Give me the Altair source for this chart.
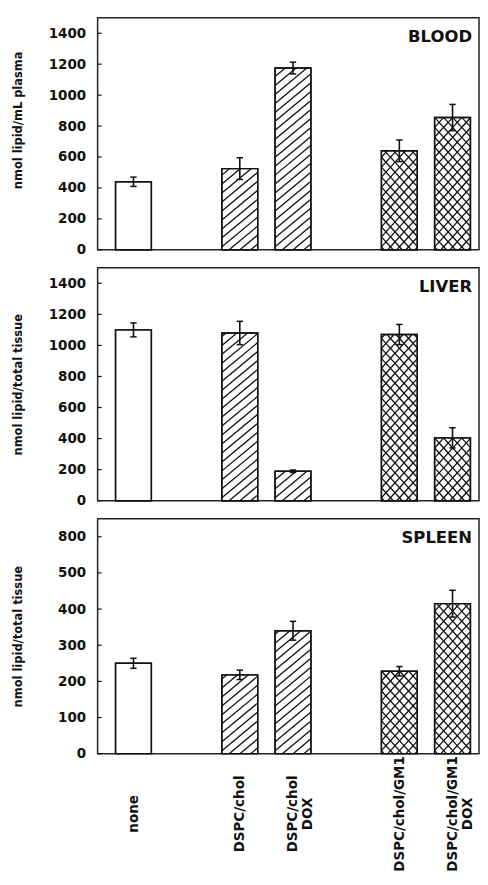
import altair as alt
import pandas as pd

# ---------------- data ----------------
groups = [["none"],
          ["DSPC/chol", "DSPC/chol DOX"],
          ["DSPC/chol/GM1", "DSPC/chol/GM1 DOX"]]
group_pattern = ["none", "diag", "cross"]

tissues = ["BLOOD", "LIVER", "SPLEEN"]
y_titles = ["nmol lipid/mL plasma", "nmol lipid/total tissue", "nmol lipid/total tissue"]

blood_values = [440, 525, 1175, 640, 855]
blood_err = [30, 70, 38, 70, 85]
liver_values = [1100, 1080, 190, 1070, 405]
liver_err = [45, 75, 8, 65, 65]
spleen_values = [250, 218, 340, 228, 415]
spleen_err = [14, 13, 26, 13, 37]

blood_ticks = [0, 200, 400, 600, 800, 1000, 1200, 1400]
liver_ticks = [0, 200, 400, 600, 800, 1000, 1200, 1400]
spleen_ticks = [0, 100, 200, 300, 400, 500, 600]
spleen_tick_labels = ["0", "100", "200", "300", "400", "500", "800"]

y_max = [1500, 1500, 650]

# ---------------- layout / style ----------------
W = 383
HEIGHTS = [233, 234, 236]
X_LO, X_HI = -0.674, 6.498
PX_X = W / (X_HI - X_LO)
BAR_PX = 36
HB = BAR_PX / 2 / PX_X
CAP = 3.2 / PX_X
FONT = "DejaVu Sans"

# slot positions derived from the grouping (one empty slot between groups)
categories, slots, patterns = [], [], []
slot = 0
for g, pat in zip(groups, group_pattern):
    for c in g:
        categories.append(c)
        slots.append(slot)
        patterns.append(pat)
        slot += 1
    slot += 1

def label_expr():
    parts = []
    for c, s in zip(categories, slots):
        lines = c.split(" ")
        arr = "[" + ",".join("'" + l + "'" for l in lines) + "]"
        parts.append(f"datum.value == {s} ? {arr} : ")
    return "".join(parts) + "''"

def tick_label_expr(ticks, labels):
    parts = [f"datum.value == {t} ? '{l}' : " for t, l in zip(ticks, labels)]
    return "".join(parts) + "datum.label"

xscale = alt.Scale(domain=[X_LO, X_HI], nice=False, zero=False)

def panel(i, values, errs, ticks, tick_labels, bottom):
    h = HEIGHTS[i]
    ymax = y_max[i]
    py = h / ymax
    yscale = alt.Scale(domain=[0, ymax], nice=False)
    df = pd.DataFrame({"cat": categories, "pos": slots, "pattern": patterns,
                       "value": values, "err": errs})

    if bottom:
        xaxis = alt.Axis(values=slots, labelExpr=label_expr(), title=None,
                         labelAngle=270, labelAlign="center", labelBaseline="middle",
                         labelPadding=60, labelLineHeight=15, labelFont=FONT,
                         labelFontWeight="bold", labelFontSize=13.5, labelColor="#111",
                         labelOverlap=False, labelFlush=False, ticks=False, tickSize=0,
                         domain=False, grid=False)
    else:
        xaxis = None

    yaxis_kw = dict(values=ticks, title=y_titles[i], ticks=False, domain=False, grid=False,
                    format="d",
                    labelPadding=12, labelFont=FONT, labelFontWeight="bold",
                    labelFontSize=13.5, labelColor="#111", titleFont=FONT,
                    titleFontWeight="bold", titleFontSize=11.5, titleColor="#111",
                    titleX=-74)
    if tick_labels is not None:
        yaxis_kw["labelExpr"] = tick_label_expr(ticks, tick_labels)
    if i == 0:
        yaxis_kw["titleY"] = h / 2 - 14
    yaxis = alt.Axis(**yaxis_kw)

    def X(f):
        return alt.X(f, scale=xscale, axis=xaxis)

    def Y(f):
        return alt.Y(f, scale=yscale, axis=yaxis)

    base = alt.Chart(df)
    bars = base.transform_calculate(
        x0=f"datum.pos - {HB}", x1=f"datum.pos + {HB}"
    ).mark_bar(fill="white", stroke="#111", strokeWidth=1.4).encode(
        x=X("x0:Q"), x2="x1:Q", y=Y("value:Q"), y2=alt.datum(0),
    )

    hatch = base.transform_filter("datum.pattern != 'none'").transform_calculate(
        H=f"datum.value * {py}"
    ).transform_calculate(
        m="datum.pattern == 'cross' ? 1.1 : 0.83"
    ).transform_calculate(
        s="datum.pattern == 'cross' ? 10 : 9"
    ).transform_calculate(
        sgns="datum.pattern == 'cross' ? [1, -1] : [1]"
    ).transform_flatten(["sgns"], as_=["sgn"]).transform_calculate(
        ks=f"sequence(floor(-datum.m * {BAR_PX} / datum.s) - 1, ceil((datum.H + datum.m * {BAR_PX}) / datum.s) + 2)"
    ).transform_flatten(["ks"], as_=["k"]).transform_calculate(
        c="datum.k * datum.s + 3"
    ).transform_calculate(
        X0="datum.sgn > 0 ? max(0, -datum.c / datum.m) : max(0, (datum.c - datum.H) / datum.m)"
    ).transform_calculate(
        X1=f"datum.sgn > 0 ? min({BAR_PX}, (datum.H - datum.c) / datum.m) : min({BAR_PX}, datum.c / datum.m)"
    ).transform_filter("datum.X1 > datum.X0 + 0.3").transform_calculate(
        hx0=f"datum.pos - {HB} + datum.X0 / {PX_X}"
    ).transform_calculate(
        hx1=f"datum.pos - {HB} + datum.X1 / {PX_X}"
    ).transform_calculate(
        hy0=f"(datum.sgn * datum.m * datum.X0 + datum.c) / {py}"
    ).transform_calculate(
        hy1=f"(datum.sgn * datum.m * datum.X1 + datum.c) / {py}"
    ).mark_rule(color="#111", strokeWidth=1.3).encode(
        x=X("hx0:Q"), x2="hx1:Q", y=Y("hy0:Q"), y2="hy1:Q",
    )

    outline = base.transform_calculate(
        x0=f"datum.pos - {HB}", x1=f"datum.pos + {HB}"
    ).mark_bar(fill=None, stroke="#111", strokeWidth=1.4).encode(
        x=X("x0:Q"), x2="x1:Q", y=Y("value:Q"), y2=alt.datum(0),
    )

    ebar = base.transform_calculate(
        lo="datum.value - datum.err", hi="datum.value + datum.err"
    ).mark_rule(color="#111", strokeWidth=1.6).encode(
        x=X("pos:Q"), y=Y("lo:Q"), y2="hi:Q",
    )

    caps = base.transform_calculate(
        lo="datum.value - datum.err", hi="datum.value + datum.err"
    ).transform_fold(["lo", "hi"], as_=["which", "capy"]).transform_calculate(
        cx0=f"datum.pos - {CAP}", cx1=f"datum.pos + {CAP}"
    ).mark_rule(color="#111", strokeWidth=1.5).encode(
        x=X("cx0:Q"), x2="cx1:Q", y=Y("capy:Q"),
    )

    tick_df = pd.DataFrame({"t": ticks})
    inticks = alt.Chart(tick_df).mark_rule(color="#111", strokeWidth=1.2).encode(
        x=alt.value(0), x2=alt.value(4), y=Y("t:Q"),
    )

    name = alt.Chart(pd.DataFrame({"name": [tissues[i]]})).mark_text(
        align="right", baseline="alphabetic", font=FONT, fontWeight="bold",
        fontSize=16.5, color="#111"
    ).encode(x=alt.value(W - 7), y=alt.value(24), text="name:N")

    return alt.layer(bars, hatch, outline, ebar, caps, inticks, name).properties(
        width=W, height=h)

p1 = panel(0, blood_values, blood_err, blood_ticks, None, False)
p2 = panel(1, liver_values, liver_err, liver_ticks, None, False)
p3 = panel(2, spleen_values, spleen_err, spleen_ticks, spleen_tick_labels, True)

chart = alt.vconcat(p1, p2, p3, spacing=9).properties(
    padding={"left": 4, "top": 7, "right": 0, "bottom": 0},
    background="white",
).configure_view(stroke="#222", strokeWidth=1.5)

chart.save("out.html", embed_options={"renderer": "svg", "actions": False})
